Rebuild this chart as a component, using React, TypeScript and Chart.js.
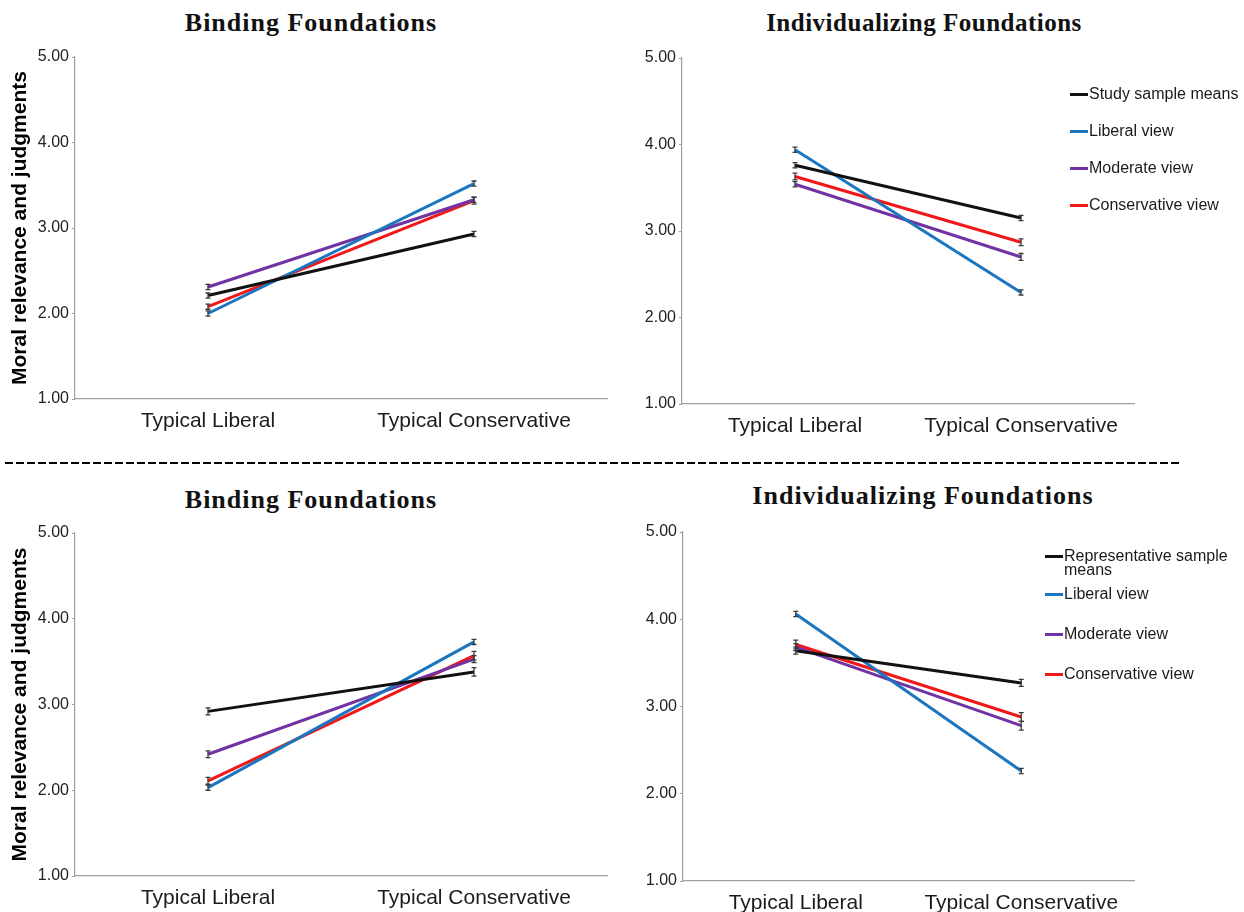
import React, { useEffect, useRef } from "react";
import { Chart, registerables } from "chart.js";

Chart.register(...registerables);

// ---------- data ----------
const categories = ["Typical Liberal", "Typical Conservative"];
const yTickValues = [1, 2, 3, 4, 5];
const yAxisTitle = "Moral relevance and judgments";

const studyLegend = ["Study sample means", "Liberal view", "Moderate view", "Conservative view"];
const repLegend = ["Representative sample means", "Liberal view", "Moderate view", "Conservative view"];
const seriesColors = ["#111111", "#1c75bf", "#7132a3", "#f01818"];

// Study sample – Binding
const studyBindingMeans = [2.21, 2.93];
const studyBindingLiberal = [2.0, 3.52];
const studyBindingModerate = [2.31, 3.33];
const studyBindingConservative = [2.08, 3.32];
const studyBindingSE = [
  [0.03, 0.03],
  [0.03, 0.03],
  [0.03, 0.03],
  [0.03, 0.04],
];

// Study sample – Individualizing
const studyIndivMeans = [3.76, 3.15];
const studyIndivLiberal = [3.94, 2.29];
const studyIndivModerate = [3.54, 2.7];
const studyIndivConservative = [3.63, 2.87];
const studyIndivSE = [
  [0.03, 0.03],
  [0.03, 0.03],
  [0.03, 0.04],
  [0.04, 0.04],
];

// Representative sample – Binding
const repBindingMeans = [2.92, 3.38];
const repBindingLiberal = [2.03, 3.73];
const repBindingModerate = [2.42, 3.53];
const repBindingConservative = [2.11, 3.57];
const repBindingSE = [
  [0.04, 0.05],
  [0.03, 0.03],
  [0.04, 0.04],
  [0.04, 0.05],
];

// Representative sample – Individualizing
const repIndivMeans = [3.64, 3.27];
const repIndivLiberal = [4.06, 2.26];
const repIndivModerate = [3.68, 2.78];
const repIndivConservative = [3.71, 2.88];
const repIndivSE = [
  [0.04, 0.04],
  [0.03, 0.03],
  [0.04, 0.05],
  [0.05, 0.05],
];

// ---------- helpers ----------
const SANS = 'Arial, "Liberation Sans", Helvetica, sans-serif';
const SERIF = '"Liberation Serif", "Times New Roman", serif';

const errorBarPlugin = {
  id: "errorBars",
  afterDatasetsDraw(chart: any) {
    const ctx = chart.ctx;
    const yScale = chart.scales.y;
    chart.data.datasets.forEach((ds: any, i: number) => {
      const errs = ds.errors;
      if (!errs) return;
      const meta = chart.getDatasetMeta(i);
      meta.data.forEach((pt: any, j: number) => {
        const v = ds.data[j];
        const e = errs[j];
        const x = pt.x;
        const yT = yScale.getPixelForValue(v + e);
        const yB = yScale.getPixelForValue(v - e);
        ctx.save();
        ctx.strokeStyle = "#3a3a3a";
        ctx.lineWidth = 1.3;
        ctx.beginPath();
        ctx.moveTo(x, yT);
        ctx.lineTo(x, yB);
        ctx.moveTo(x - 2.5, yT);
        ctx.lineTo(x + 2.5, yT);
        ctx.moveTo(x - 2.5, yB);
        ctx.lineTo(x + 2.5, yB);
        ctx.stroke();
        ctx.restore();
      });
    });
  },
};

type PanelProps = {
  left: number;
  top: number;
  width: number;
  height: number;
  padTop: number;
  padRight: number;
  yWidth: number;
  xHeight: number;
  showYTitle: boolean;
  series: number[][];
  errors: number[][];
  names: string[];
};

function Panel(p: PanelProps) {
  const ref = useRef<HTMLCanvasElement | null>(null);
  useEffect(() => {
    if (!ref.current) return;
    const datasets = p.series.map((d, i) => ({
      label: p.names[i],
      data: d,
      errors: p.errors[i],
      borderColor: seriesColors[i],
      backgroundColor: seriesColors[i],
      borderWidth: 3,
      pointRadius: 0,
      tension: 0,
      fill: false,
    }));
    const chart = new Chart(ref.current, {
      type: "line",
      data: { labels: categories, datasets: datasets as any },
      plugins: [errorBarPlugin as any],
      options: {
        animation: false,
        responsive: true,
        maintainAspectRatio: false,
        layout: { padding: { top: p.padTop, right: p.padRight, left: 0, bottom: 0 } },
        plugins: { legend: { display: false }, tooltip: { enabled: false } },
        scales: {
          x: {
            type: "category",
            offset: true,
            grid: { display: false, drawTicks: false },
            border: { display: true, color: "#a0a0a0", width: 1.2 },
            ticks: {
              font: { family: SANS, size: 21 },
              color: "#1c1c1c",
              padding: 10,
              maxRotation: 0,
              autoSkip: false,
            },
            afterFit: (s: any) => {
              s.height = p.xHeight;
            },
          },
          y: {
            min: 1,
            max: 5,
            grid: {
              display: true,
              drawOnChartArea: false,
              drawTicks: true,
              tickLength: 3,
              tickColor: "#a0a0a0",
              color: "#a0a0a0",
            },
            border: { display: true, color: "#a0a0a0", width: 1.2 },
            afterBuildTicks: (s: any) => {
              s.ticks = yTickValues.map((v) => ({ value: v }));
            },
            ticks: {
              font: { family: SANS, size: 16 },
              color: "#222222",
              padding: 3,
              callback: (v: any) => Number(v).toFixed(2),
            },
            title: {
              display: p.showYTitle,
              text: yAxisTitle,
              font: { family: SANS, size: 21, weight: "bold" },
              color: "#000000",
              padding: { top: 8, bottom: 0 },
            },
            afterFit: (s: any) => {
              s.width = p.yWidth;
            },
          },
        },
      } as any,
    });
    return () => chart.destroy();
  }, []);
  return (
    <div
      style={{
        position: "absolute",
        left: p.left,
        top: p.top,
        width: p.width,
        height: p.height,
      }}
    >
      <canvas ref={ref} />
    </div>
  );
}

function Title(props: { text: string; cx: number; top: number; size: number; ls: number }) {
  return (
    <div
      style={{
        position: "absolute",
        left: props.cx - 250,
        top: props.top,
        width: 500,
        textAlign: "center",
        fontFamily: SERIF,
        fontWeight: "bold",
        fontSize: props.size,
        lineHeight: "30px",
        letterSpacing: props.ls,
        color: "#111",
        whiteSpace: "nowrap",
      }}
    >
      {props.text}
    </div>
  );
}

function Legend(props: { x: number; ys: number[]; names: string[]; size: number }) {
  return (
    <>
      {props.names.map((n, i) => {
        const lines = n === "Representative sample means" ? ["Representative sample", "means"] : [n];
        return (
          <div
            key={i}
            style={{
              position: "absolute",
              left: props.x,
              top: props.ys[i] - 9,
              fontFamily: SANS,
              fontSize: props.size,
              lineHeight: "16px",
              color: "#1a1a1a",
              whiteSpace: "nowrap",
            }}
          >
            <div style={{ display: "flex", alignItems: "center", height: 18 }}>
              <span
                style={{
                  display: "inline-block",
                  width: 18,
                  height: 3,
                  background: seriesColors[i],
                  marginRight: 1,
                }}
              />
              <span>{lines[0]}</span>
            </div>
            {lines.length > 1 && <div style={{ paddingLeft: 19, marginTop: -3 }}>{lines[1]}</div>}
          </div>
        );
      })}
    </>
  );
}

export default function App() {
  return (
    <div
      style={{
        position: "absolute",
        left: 0,
        top: 0,
        width: 1244,
        height: 912,
        background: "#ffffff",
        overflow: "hidden",
      }}
    >
      <Title text="Binding Foundations" cx={311} top={8} size={26} ls={1} />
      <Title text="Individualizing Foundations" cx={924} top={8} size={25} ls={0.5} />
      <Title text="Binding Foundations" cx={311} top={485} size={26} ls={1} />
      <Title text="Individualizing Foundations" cx={923} top={481} size={26} ls={1} />

      <Panel
        left={0}
        top={40}
        width={620}
        height={400}
        padTop={17}
        padRight={13}
        yWidth={75}
        xHeight={41}
        showYTitle={true}
        series={[studyBindingMeans, studyBindingLiberal, studyBindingModerate, studyBindingConservative]}
        errors={studyBindingSE}
        names={studyLegend}
      />
      <Panel
        left={630}
        top={40}
        width={614}
        height={410}
        padTop={18}
        padRight={110}
        yWidth={52}
        xHeight={46}
        showYTitle={false}
        series={[studyIndivMeans, studyIndivLiberal, studyIndivModerate, studyIndivConservative]}
        errors={studyIndivSE}
        names={studyLegend}
      />
      <Panel
        left={0}
        top={516}
        width={620}
        height={396}
        padTop={17}
        padRight={13}
        yWidth={75}
        xHeight={36}
        showYTitle={true}
        series={[repBindingMeans, repBindingLiberal, repBindingModerate, repBindingConservative]}
        errors={repBindingSE}
        names={repLegend}
      />
      <Panel
        left={630}
        top={514}
        width={614}
        height={398}
        padTop={18}
        padRight={110}
        yWidth={53}
        xHeight={31}
        showYTitle={false}
        series={[repIndivMeans, repIndivLiberal, repIndivModerate, repIndivConservative]}
        errors={repIndivSE}
        names={repLegend}
      />

      <Legend x={1070} ys={[94, 131, 168, 205]} names={studyLegend} size={16} />
      <Legend x={1045} ys={[556, 594, 634, 674]} names={repLegend} size={16} />

      <div
        style={{
          position: "absolute",
          left: 5,
          top: 462,
          width: 1175,
          height: 2,
          background: "repeating-linear-gradient(to right, #000 0px, #000 8px, transparent 8px, transparent 11px)",
        }}
      />
    </div>
  );
}
